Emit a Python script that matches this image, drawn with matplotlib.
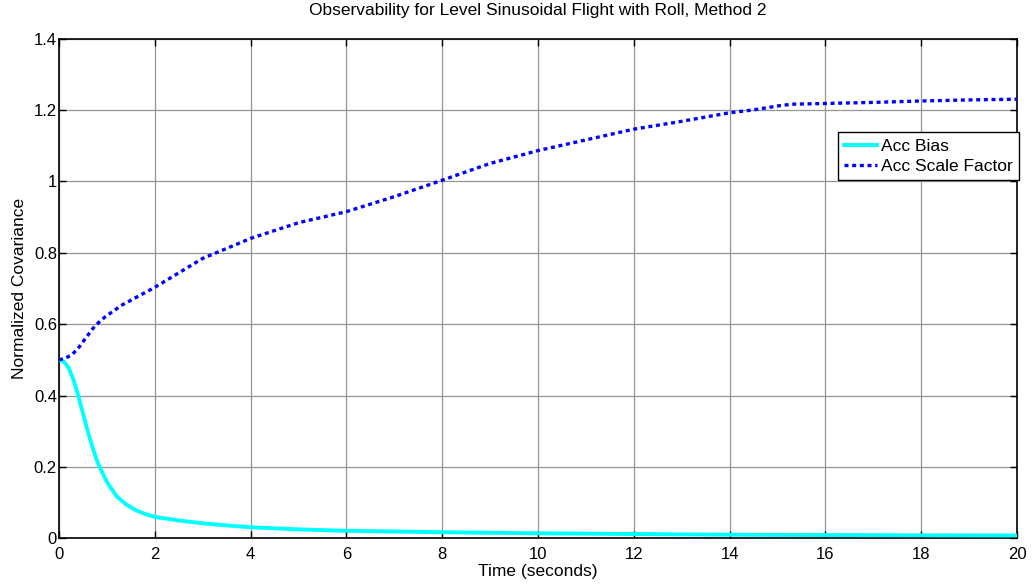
import matplotlib
matplotlib.use("Agg")
import matplotlib.pyplot as plt

# Data
bias_t = [0, 0.1, 0.2, 0.3, 0.4, 0.5, 0.6, 0.7, 0.8, 0.9, 1.0, 1.2, 1.4, 1.6, 1.8, 2.0,
          2.5, 3, 3.5, 4, 5, 6, 7, 8, 10, 12, 14, 16, 18, 20]
bias_v = [0.5, 0.495, 0.478, 0.445, 0.40, 0.35, 0.30, 0.255, 0.215, 0.185, 0.158, 0.118,
          0.095, 0.079, 0.068, 0.060, 0.050, 0.042, 0.036, 0.031, 0.025, 0.021, 0.019,
          0.017, 0.014, 0.012, 0.010, 0.009, 0.0085, 0.008]

scale_t = [0, 0.1, 0.26, 0.4, 0.58, 0.75, 0.96, 1.31, 2, 3, 4, 5, 6, 7, 8, 9, 10, 11,
           12, 13, 14, 14.5, 15, 15.3, 16, 17, 18, 19, 20]
scale_v = [0.5, 0.503, 0.513, 0.532, 0.565, 0.595, 0.62, 0.653, 0.703, 0.784, 0.840,
           0.884, 0.915, 0.957, 1.003, 1.050, 1.086, 1.116, 1.146, 1.168, 1.192, 1.200,
           1.211, 1.216, 1.218, 1.221, 1.225, 1.228, 1.230]

x_ticks = [0, 2, 4, 6, 8, 10, 12, 14, 16, 18, 20]
y_ticks = [0, 0.2, 0.4, 0.6, 0.8, 1.0, 1.2, 1.4]
y_tick_labels = ["0", "0.2", "0.4", "0.6", "0.8", "1", "1.2", "1.4"]

title = "Observability for Level Sinusoidal Flight with Roll, Method 2"
xlabel = "Time (seconds)"
ylabel = "Normalized Covariance"
labels = ["Acc Bias", "Acc Scale Factor"]

plt.rcParams['font.family'] = ['Liberation Sans', 'DejaVu Sans']
plt.rcParams['font.size'] = 12.5

fig = plt.figure(figsize=(10.35, 5.85), dpi=100)
ax = fig.add_axes([59 / 1035, 1 - 538.3 / 585, (1017 - 59) / 1035, (538.3 - 38.5) / 585])

ax.plot(bias_t, bias_v, color='#00FFFF', lw=2.8, label=labels[0], zorder=3)
ax.plot(scale_t, scale_v, color='#0000FF', lw=2.4, linestyle=(0, (1.2, 1.1)),
        label=labels[1], zorder=3)

ax.set_xlim(0, 20)
ax.set_ylim(0, 1.4)
ax.set_xticks(x_ticks)
ax.set_xticklabels([str(v) for v in x_ticks])
ax.set_yticks(y_ticks)
ax.set_yticklabels(y_tick_labels)
ax.grid(True, color='#969696', lw=0.9, linestyle='-')
ax.set_axisbelow(True)
ax.tick_params(direction='in', length=5, width=1, top=True, right=True,
               labelsize=12, colors='black')
ax.tick_params(axis='x', pad=6)
ax.tick_params(axis='y', pad=1.5)
for s in ax.spines.values():
    s.set_linewidth(1.2)
    s.set_color('black')

ax.set_title(title, fontsize=12.5, pad=17)
ax.set_xlabel(xlabel, fontsize=12.5, labelpad=2)
ax.set_ylabel(ylabel, fontsize=12.5, labelpad=5)

leg = ax.legend(loc='upper right', bbox_to_anchor=(1.002, 0.812), fancybox=False,
                framealpha=1, edgecolor='black', handlelength=1.9, handletextpad=0.25,
                borderpad=0.35, labelspacing=0.3, borderaxespad=0, fontsize=12.5)
leg.get_frame().set_linewidth(1.0)

fig.savefig('out.png', dpi=100)
